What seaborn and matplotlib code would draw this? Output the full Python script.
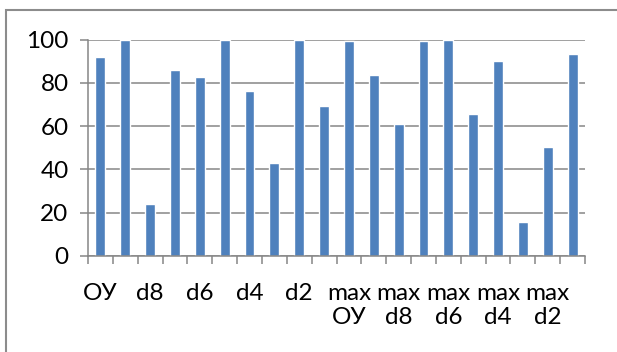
import matplotlib

matplotlib.use("Agg")
import matplotlib.pyplot as plt
from matplotlib.patches import Rectangle
import pandas as pd
import seaborn as sns

# categories (Excel shows every other label)
categories = ["ОУ", "d9", "d8", "d7", "d6", "d5", "d4", "d3", "d2", "d1",
              "max\nОУ", "max\nd9", "max\nd8", "max\nd7", "max\nd6",
              "max\nd5", "max\nd4", "max\nd3", "max\nd2", "max\nd1"]
values = [91.7, 100, 24, 85.7, 82.7, 100, 76.1, 43.1, 100, 69.5,
          99.4, 83.4, 61.2, 99.2, 100, 65.5, 90, 15.5, 50.4, 93.4]
y_ticks = [0, 20, 40, 60, 80, 100]

BAR_COLOR = "#4F81BD"
GRID_COLOR = "#868686"

sns.set_theme(style="white")
plt.rcParams["font.family"] = ["Lato", "DejaVu Sans"]

df = pd.DataFrame({"cat": categories, "val": values})

fig = plt.figure(figsize=(6.17, 3.52), dpi=100)
ax = fig.add_axes([88 / 617, 1 - 256 / 352, (585 - 88) / 617, (256 - 39.5) / 352])

sns.barplot(data=df, x="cat", y="val", color=BAR_COLOR, saturation=1,
            width=0.4, ax=ax)

ax.set_xlim(-0.5, len(categories) - 0.5)
ax.set_ylim(0, 100)
ax.set_yticks(y_ticks)
ax.yaxis.grid(True, color=GRID_COLOR, lw=1.1)
ax.set_axisbelow(True)
ax.set(xlabel="", ylabel="")

ax.set_xticks(range(0, len(categories), 2))
ax.set_xticklabels(categories[::2], linespacing=1.2)
ax.set_xticks([i - 0.5 for i in range(len(categories) + 1)], minor=True)

ax.tick_params(axis="x", which="major", length=0, pad=19.5, labelsize=17.5, colors="black")
ax.tick_params(axis="x", which="minor", length=5.8, width=1.1, color=GRID_COLOR, direction="out", bottom=True)
ax.tick_params(axis="y", length=5.8, width=1.1, color=GRID_COLOR, pad=8.2, labelsize=17.5,
               labelcolor="black", left=True)

for side in ["top", "right"]:
    ax.spines[side].set_visible(False)
for side in ["left", "bottom"]:
    ax.spines[side].set_color(GRID_COLOR)
    ax.spines[side].set_linewidth(1.1)

# chart frame, cut off at the right and bottom as in the source
fig.patches.append(Rectangle((5.5 / 617, -0.1), 2, 1.1 - 10 / 352,
                             transform=fig.transFigure, fill=False,
                             edgecolor="#8c8c8c", lw=1.5))

fig.savefig("out.png", dpi=100)
